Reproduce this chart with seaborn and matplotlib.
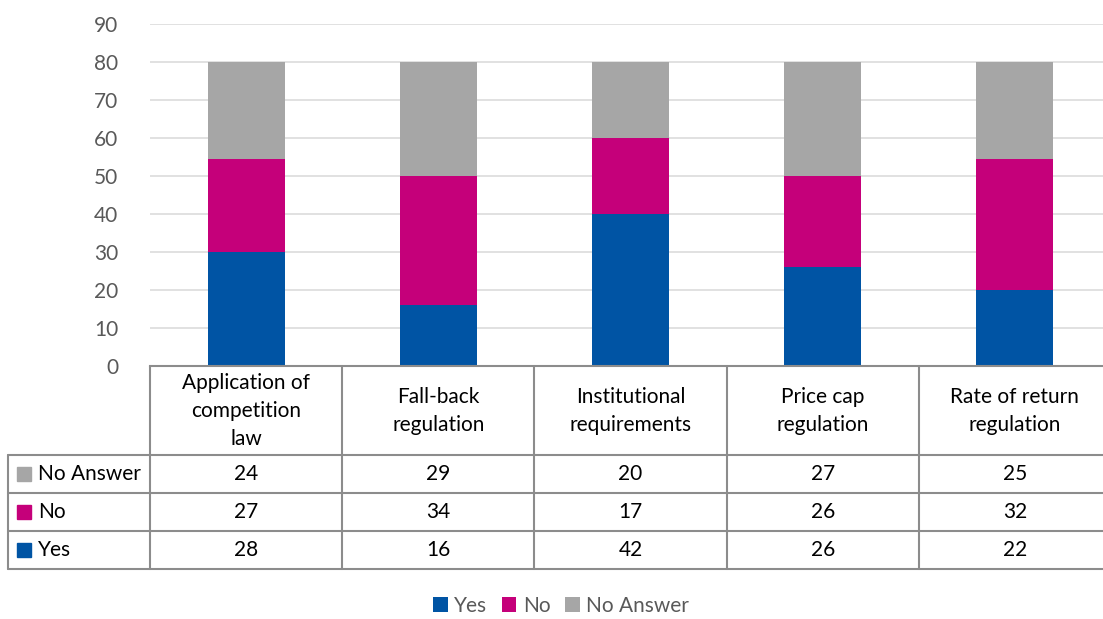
import matplotlib
matplotlib.use("Agg")
import matplotlib.pyplot as plt
import seaborn as sns
import numpy as np
import pandas as pd
from matplotlib.patches import Rectangle

categories = ["Application of competition law", "Fall-back regulation",
              "Institutional requirements", "Price cap regulation",
              "Rate of return regulation"]
header_labels = ["Application of\ncompetition\nlaw", "Fall-back\nregulation",
                 "Institutional\nrequirements", "Price cap\nregulation",
                 "Rate of return\nregulation"]
series = ["Yes", "No", "No Answer"]

# segment heights as drawn in the bars
bar_yes = [30, 16, 40, 26, 20]
bar_no = [24.5, 34, 20, 24, 34.5]
bar_na = [25.5, 30, 20, 30, 25.5]

# numbers printed in the data table
table_yes = [28, 16, 42, 26, 22]
table_no = [27, 34, 17, 26, 32]
table_na = [24, 29, 20, 27, 25]

colors = {"Yes": "#0054A4", "No": "#C5007A", "No Answer": "#A6A6A6"}
grey_txt = "#595959"
line_col = "#8C8C8C"
fs = 15

sns.set_style("white")
plt.rcParams["font.family"] = ["Lato", "DejaVu Sans"]

W, H = 1103, 619
fig = plt.figure(figsize=(W / 100, H / 100), dpi=100)


def fx(x):
    return x / W


def fy(y):
    return 1 - y / H


ax = fig.add_axes([fx(150), fy(366), fx(1111 - 150), (366 - 24) / H])

# stacked bars: draw cumulative totals from the top down
cum_no = np.array(bar_yes) + np.array(bar_no)
cum_na = cum_no + np.array(bar_na)
sns.barplot(x=categories, y=cum_na, color=colors["No Answer"], width=0.4,
            saturation=1, linewidth=0, ax=ax, label="No Answer")
sns.barplot(x=categories, y=cum_no, color=colors["No"], width=0.4,
            saturation=1, linewidth=0, ax=ax, label="No")
sns.barplot(x=categories, y=bar_yes, color=colors["Yes"], width=0.4,
            saturation=1, linewidth=0, ax=ax, label="Yes")
if ax.get_legend() is not None:
    ax.get_legend().remove()

ax.set_xlim(-0.5, 4.5)
ax.set_ylim(0, 90)
ax.set_yticks(range(0, 91, 10))
ax.yaxis.grid(True, color="#D9D9D9", linewidth=1.1)
ax.set_axisbelow(True)
for s in ["top", "right", "left"]:
    ax.spines[s].set_visible(False)
ax.spines["bottom"].set_color(line_col)
ax.spines["bottom"].set_linewidth(1.5)
ax.tick_params(axis="x", length=0, labelbottom=False)
ax.tick_params(axis="y", length=0, pad=23, labelsize=fs, labelcolor=grey_txt)
ax.set_xlabel(None)
ax.set_ylabel(None)

# data table under the bars, in pixel coordinates
ov = fig.add_axes([0, 0, 1, 1])
ov.set_xlim(0, W)
ov.set_ylim(H, 0)
ov.axis("off")

fig.canvas.draw()
xb = [ax.transData.transform((i - 0.5, 0))[0] for i in range(6)]
rows_y = [455, 493, 531, 569]
left = 8

for x in xb:
    ov.plot([x, x], [366, 569], color=line_col, lw=1.5, clip_on=False)
ov.plot([left, left], [455, 569], color=line_col, lw=1.5)
for y in rows_y:
    ov.plot([left, xb[-1]], [y, y], color=line_col, lw=1.5, clip_on=False)

for i, lab in enumerate(header_labels):
    ov.text((xb[i] + xb[i + 1]) / 2, 411, lab, ha="center", va="center",
            fontsize=fs, linespacing=1.5, color="black")

table_rows = [("No Answer", table_na), ("No", table_no), ("Yes", table_yes)]
for r, (name, vals) in enumerate(table_rows):
    yc = (rows_y[r] + rows_y[r + 1]) / 2
    ov.add_patch(Rectangle((17, yc - 7), 14, 14, color=colors[name]))
    ov.text(38, yc, name, ha="left", va="center", fontsize=fs, color="black")
    for i, v in enumerate(vals):
        ov.text((xb[i] + xb[i + 1]) / 2, yc, str(v), ha="center",
                va="center", fontsize=fs, color="black")

# legend at the bottom
handles, labels = ax.get_legend_handles_labels()
order = [labels.index(s) for s in series]
fig.legend([handles[k] for k in order], [labels[k] for k in order],
           loc="center", bbox_to_anchor=(fx(561), fy(606)), ncol=3,
           frameon=False, handlelength=0.7, handleheight=0.7,
           handletextpad=0.3, columnspacing=0.7, fontsize=fs,
           labelcolor=grey_txt, borderpad=0.1)

plt.savefig("out.png", dpi=100)
